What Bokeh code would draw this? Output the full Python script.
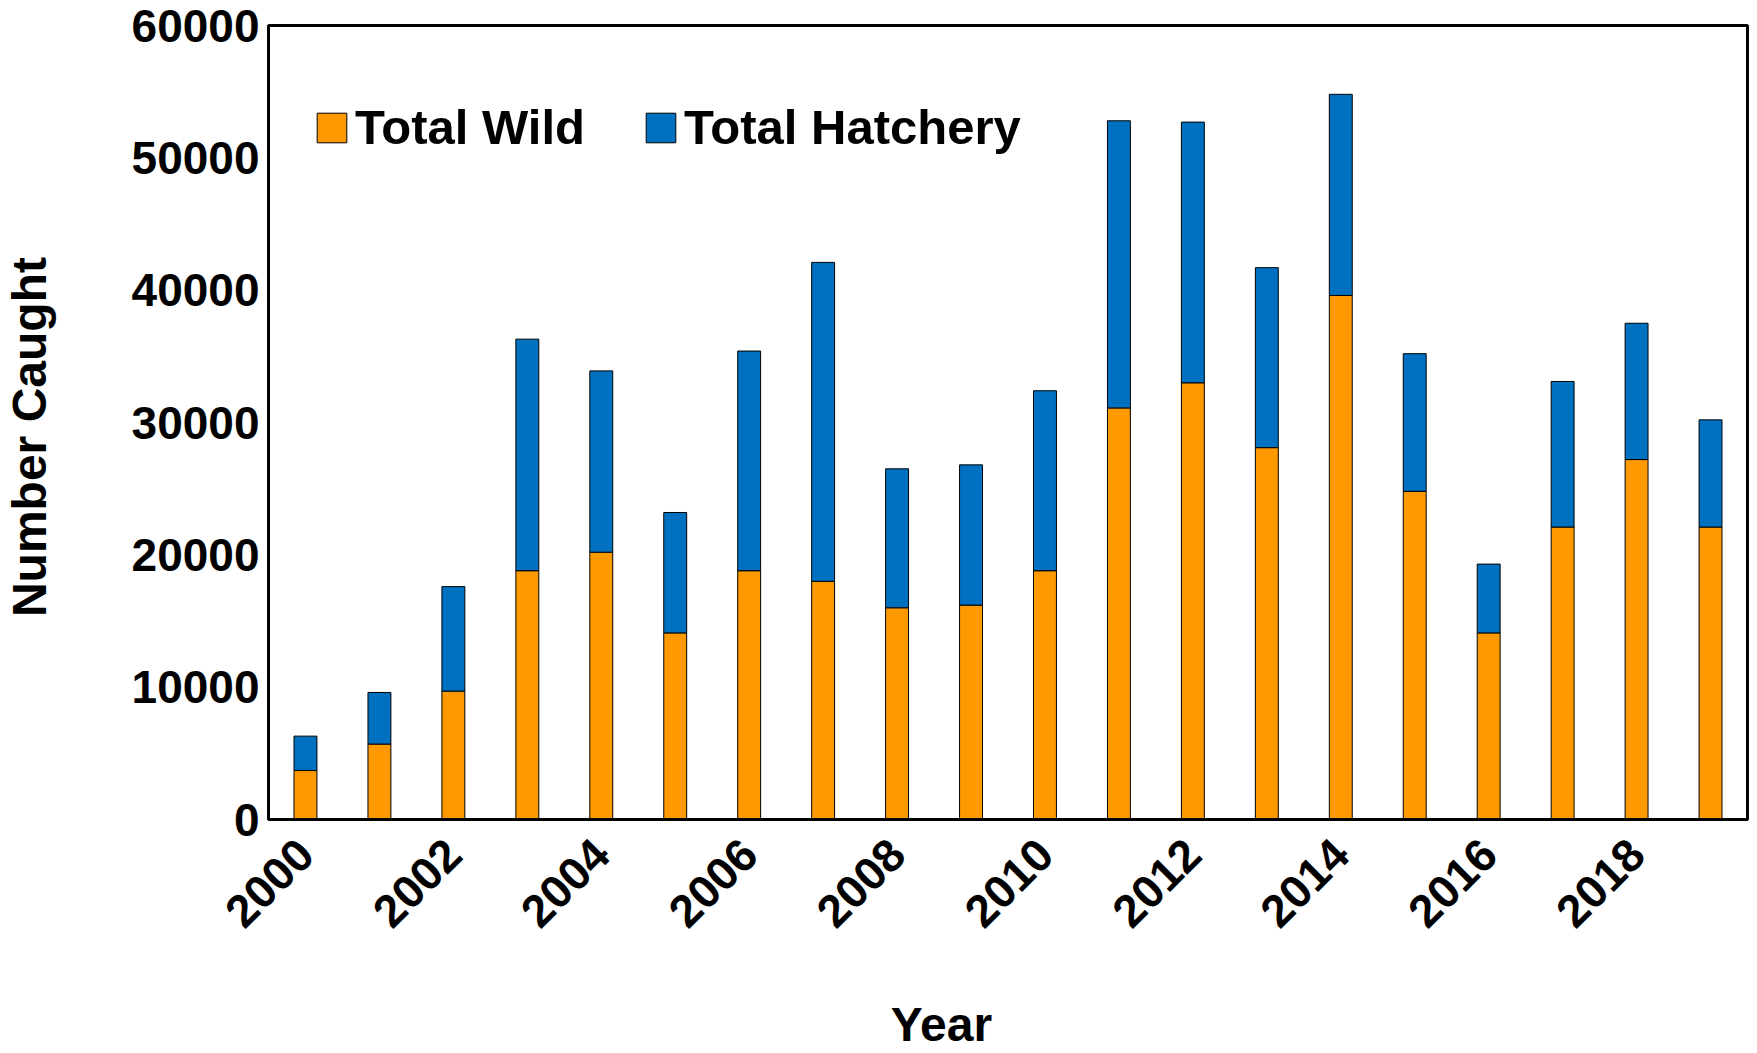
import math
from bokeh.plotting import figure
from bokeh.models import (ColumnDataSource, Range1d, FixedTicker, Legend, LegendItem,
                          NumeralTickFormatter, LinearAxis)
from bokeh.embed import file_html
from bokeh.resources import INLINE

years = list(range(2000, 2020))
total_wild = [3700, 5700, 9700, 18800, 20200, 14100, 18800, 18000, 16000, 16200,
              18800, 31100, 33000, 28100, 39600, 24800, 14100, 22100, 27200, 22100]
total_hatchery = [2600, 3900, 7900, 17500, 13700, 9100, 16600, 24100, 10500, 10600,
                  13600, 21700, 19700, 13600, 15200, 10400, 5200, 11000, 10300, 8100]
x_ticks = [2000, 2002, 2004, 2006, 2008, 2010, 2012, 2014, 2016, 2018]
y_ticks = [0, 10000, 20000, 30000, 40000, 50000, 60000]
x_title = "Year"
y_title = "Number Caught"

FONT = "Liberation Sans"
FS = "46px"
FS_L = "48px"

src = ColumnDataSource(dict(year=years, wild=total_wild, hatchery=total_hatchery))

H = 1053
p = figure(width=1749, height=H, output_backend="svg", toolbar_location=None,
           x_range=Range1d(1999.5, 2019.5), y_range=Range1d(0, 60000),
           min_border_left=265, min_border_right=2, min_border_top=25,
           min_border_bottom=H - 820)

renderers = p.vbar_stack(["wild", "hatchery"], x="year", width=0.31, source=src,
                         color=["#FF9900", "#0070C0"], line_color="black", line_width=1)

p.xgrid.visible = False
p.ygrid.visible = False
p.outline_line_color = "black"
p.outline_line_width = 3
p.outline_line_alpha = 1


def style_axis(ax, size):
    ax.major_tick_out = 0
    ax.major_tick_in = 0
    ax.minor_tick_out = 0
    ax.minor_tick_in = 0
    ax.major_label_text_font = FONT
    ax.major_label_text_font_style = "bold"
    ax.major_label_text_font_size = size
    ax.major_label_text_color = "black"


p.xaxis.ticker = FixedTicker(ticks=x_ticks)
p.yaxis.ticker = FixedTicker(ticks=y_ticks)
p.yaxis.formatter = NumeralTickFormatter(format="0")
for ax in (p.xaxis, p.yaxis):
    style_axis(ax, FS)
    ax.axis_line_color = "black"
    ax.axis_line_width = 3

p.xaxis.major_label_orientation = math.pi / 4
p.xaxis.major_label_standoff = 27
p.yaxis.major_label_standoff = 9

# axis titles, placed off-centre as in the reference, via label-only axes
x_title_pos = 2008.6
y_title_pos = 28900
xt = LinearAxis(ticker=FixedTicker(ticks=[x_title_pos]),
                major_label_overrides={x_title_pos: x_title})
style_axis(xt, FS_L)
xt.axis_line_color = None
xt.major_label_standoff = 53
p.add_layout(xt, "below")

yt = LinearAxis(ticker=FixedTicker(ticks=[y_title_pos]),
                major_label_overrides={y_title_pos: y_title})
style_axis(yt, FS_L)
yt.axis_line_color = None
yt.major_label_orientation = "vertical"
yt.major_label_standoff = 72
p.add_layout(yt, "left")

legend = Legend(items=[LegendItem(label="Total Wild", renderers=[renderers[0]]),
                       LegendItem(label="Total Hatchery", renderers=[renderers[1]])],
                orientation="horizontal", location=(45, 664))
legend.border_line_color = None
legend.background_fill_alpha = 0
legend.margin = 0
legend.padding = 0
legend.spacing = 57
legend.glyph_width = 37
legend.glyph_height = 37
legend.label_standoff = 5
legend.label_text_font = FONT
legend.label_text_font_style = "bold"
legend.label_text_font_size = "49px"
legend.label_text_color = "black"
p.add_layout(legend, "center")

open("out.html", "w").write(file_html(p, INLINE))
